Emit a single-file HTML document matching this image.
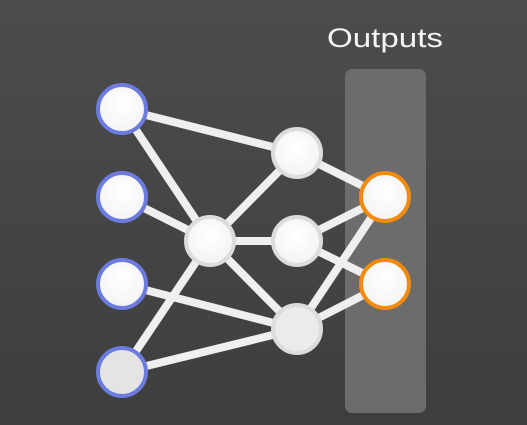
<!DOCTYPE html>
<html><head><style>
html,body{margin:0;padding:0;background:#464646;}
svg{display:block;}
</style></head><body>
<svg width="527" height="425" viewBox="0 0 527 425" xmlns="http://www.w3.org/2000/svg">
<defs>
<linearGradient id="bg" x1="0" y1="0" x2="0" y2="1">
<stop offset="0" stop-color="#4c4c4c"/><stop offset="1" stop-color="#3e3e3e"/>
</linearGradient>
<radialGradient id="wn" cx="0.5" cy="0.4" r="0.6">
<stop offset="0" stop-color="#ffffff"/><stop offset="1" stop-color="#f3f3f3"/>
</radialGradient>
</defs>
<rect width="527" height="425" fill="url(#bg)"/>
<rect x="345" y="69" width="81" height="344" rx="7" fill="#6c6c6c"/>
<text x="327" y="47" font-family="Liberation Sans, sans-serif" font-size="27" fill="#f4f4f4" textLength="116" lengthAdjust="spacingAndGlyphs">Outputs</text>
<g stroke="#efefef" stroke-width="8" stroke-linecap="round">
<line x1="122" y1="109" x2="297" y2="153"/>
<line x1="122" y1="109" x2="210" y2="241"/>
<line x1="122" y1="197" x2="210" y2="241"/>
<line x1="122" y1="284" x2="297" y2="329"/>
<line x1="122" y1="372" x2="210" y2="241"/>
<line x1="122" y1="372" x2="297" y2="329"/>
<line x1="210" y1="241" x2="297" y2="153"/>
<line x1="210" y1="241" x2="297" y2="241"/>
<line x1="210" y1="241" x2="297" y2="329"/>
<line x1="297" y1="153" x2="385" y2="197"/>
<line x1="297" y1="241" x2="385" y2="197"/>
<line x1="297" y1="241" x2="385" y2="284"/>
<line x1="297" y1="329" x2="385" y2="197"/>
<line x1="297" y1="329" x2="385" y2="284"/>
</g>
<g stroke-width="4">
<circle cx="122" cy="109" r="24" fill="url(#wn)" stroke="#6b7be0"/>
<circle cx="122" cy="197" r="24" fill="url(#wn)" stroke="#6b7be0"/>
<circle cx="122" cy="284" r="24" fill="url(#wn)" stroke="#6b7be0"/>
<circle cx="122" cy="372" r="24" fill="#e4e4e4" stroke="#6b7be0"/>
<circle cx="210" cy="241" r="24" fill="url(#wn)" stroke="#dcdcdc"/>
<circle cx="297" cy="153" r="24" fill="url(#wn)" stroke="#dcdcdc"/>
<circle cx="297" cy="241" r="24" fill="url(#wn)" stroke="#dcdcdc"/>
<circle cx="297" cy="329" r="24" fill="#ebebeb" stroke="#dcdcdc"/>
<circle cx="385" cy="197" r="24" fill="url(#wn)" stroke="#f28a0e"/>
<circle cx="385" cy="284" r="24" fill="url(#wn)" stroke="#f28a0e"/>
</g>
</svg>
</body></html>
